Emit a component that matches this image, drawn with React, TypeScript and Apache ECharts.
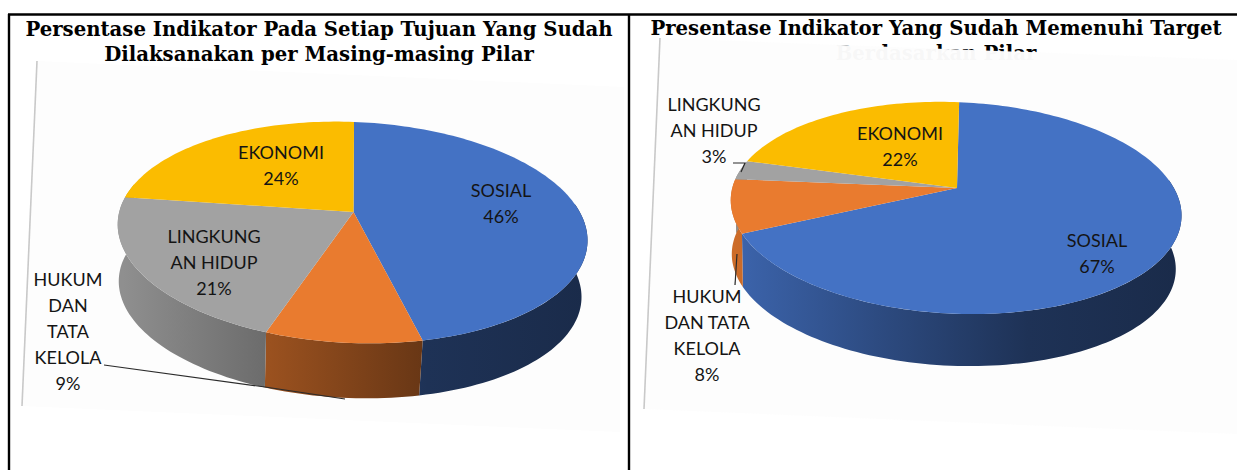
import React, { useEffect, useRef } from "react";
import * as echarts from "echarts";

// ---- data ----
const leftTitle = ["Persentase Indikator Pada Setiap Tujuan Yang Sudah", "Dilaksanakan per Masing-masing Pilar"];
const rightTitle = ["Presentase Indikator Yang Sudah Memenuhi Target", "Berdasarkan Pilar"];
const leftCategories = ["SOSIAL", "HUKUM\nDAN\nTATA\nKELOLA", "LINGKUNG\nAN HIDUP", "EKONOMI"];
const rightCategories = ["SOSIAL", "HUKUM\nDAN TATA\nKELOLA", "LINGKUNG\nAN HIDUP", "EKONOMI"];
const leftValues = [46, 9, 21, 24];
const rightValues = [67, 8, 3, 22];
const baseColors = ["#4472C4", "#E97B2F", "#A2A2A2", "#FBBC00"];

// ---- layout ----
const shadeStops: [number, number][] = [[0, 0.88], [0.32, 0.66], [0.66, 0.44], [1, 0.38]];
const tilt = (2.5 * Math.PI) / 180; // the whole picture sits slightly rotated
const leftLayout = {
  ax: 353.5, ay: 212, rx: 231, ry: 106.7, k: 0.1856, depth: 57, shrink: 0.985, start: -91,
  labels: [[501, 203], [68, 331], [214, 262], [281, 165]],
  leaders: [null, [[104, 365], [265, 387], [345, 399]], null, null],
};
const rightLayout = {
  ax: 957, ay: 188, rx: 221.5, ry: 102, k: 0.1887, depth: 54, shrink: 0.985, start: -90.5,
  labels: [[1097, 253], [707, 335], [714, 130], [900, 146]],
  leaders: [null, [[737, 254], [735, 285]], [[733, 163], [745, 163], [741, 172]], null],
};

const scale = (hex: string, f: number) => {
  const n = parseInt(hex.slice(1), 16);
  const c = [(n >> 16) & 255, (n >> 8) & 255, n & 255].map((v) => Math.round(v * f));
  return `rgb(${c.join(",")})`;
};

const pieSeries = (values: number[], names: string[], L: any) => {
  const total = values.reduce((a, b) => a + b, 0);
  const project = (deg: number, dropped: boolean) => {
    const t = (deg * Math.PI) / 180;
    const w = 1 - L.k * Math.sin(t);
    const s = dropped ? L.shrink : 1;
    const x = (s * L.rx * Math.cos(t)) / w;
    const y = (dropped ? L.depth : 0) + (s * L.ry * Math.sin(t)) / w;
    return [
      L.ax + x * Math.cos(tilt) - y * Math.sin(tilt),
      L.ay + y * Math.cos(tilt) + x * Math.sin(tilt),
    ];
  };
  const arc = (a: number, b: number, dropped: boolean) => {
    const pts: number[][] = [];
    const n = Math.max(2, Math.ceil(Math.abs(b - a) / 1.5));
    for (let i = 0; i <= n; i++) pts.push(project(a + ((b - a) * i) / n, dropped));
    return pts;
  };
  const fullW = 2 * L.rx;
  return {
    type: "custom",
    coordinateSystem: "none",
    silent: true,
    z: 3,
    data: values.map((v, i) => ({ value: v, name: names[i] })),
    renderItem: (params: any) => {
      const i = params.dataIndex;
      const before = values.slice(0, i).reduce((a, b) => a + b, 0);
      const a0 = L.start + (before / total) * 360;
      const a1 = a0 + (values[i] / total) * 360;
      const base = baseColors[i];
      const children: any[] = [];
      // outer wall: visible only on the near half of the disc
      const sa = Math.max(a0, -10);
      const sb = Math.min(a1, 190);
      if (sb > sa) {
        const top = arc(sa, sb, false);
        const bot = arc(sb, sa, true);
        children.push({
          type: "polygon",
          z2: 1,
          shape: { points: top.concat(bot) },
          style: {
            fill: {
              type: "linear",
              global: true,
              x: L.ax - L.rx,
              y: 0,
              x2: L.ax - L.rx + fullW,
              y2: 0,
              colorStops: shadeStops.map(([offset, f]) => ({ offset, color: scale(base, f) })),
            },
          },
        });
      }
      children.push({
        type: "polygon",
        z2: 2,
        shape: { points: [[L.ax, L.ay], ...arc(a0, a1, false)] },
        style: { fill: base },
      });
      const leader = L.leaders[i];
      if (leader) {
        children.push({
          type: "polyline",
          z2: 3,
          shape: { points: leader },
          style: { stroke: "#2b2b2b", lineWidth: 1.2, fill: "none" },
        });
      }
      children.push({
        type: "text",
        z2: 4,
        x: L.labels[i][0],
        y: L.labels[i][1],
        style: {
          text: `${names[i]}\n${values[i]}%`,
          fill: "#141414",
          font: "400 18px Lato",
          lineHeight: 26,
          align: "center",
          verticalAlign: "middle",
        },
      });
      return { type: "group", children };
    },
  };
};

const titleStyle = {
  fontFamily: "DejaVu Serif",
  fontWeight: "bold" as const,
  fontSize: 19.7,
  color: "#000",
};

export default function App() {
  const ref = useRef<HTMLDivElement>(null);
  useEffect(() => {
    document.body.style.margin = "0";
    const chart = echarts.init(ref.current!, undefined, { renderer: "svg" });
    const frame = { stroke: "#000", lineWidth: 2.4 };
    chart.setOption({
      animation: false,
      backgroundColor: "#ffffff",
      title: [
        { text: leftTitle[0], left: 319, top: 19, padding: 0, textAlign: "center", z: 6, textStyle: titleStyle },
        { text: leftTitle[1], left: 319, top: 44, padding: 0, textAlign: "center", z: 6, textStyle: titleStyle },
        { text: rightTitle[0], left: 936, top: 18, padding: 0, textAlign: "center", z: 6, textStyle: titleStyle },
        { text: rightTitle[1], left: 936, top: 43, padding: 0, textAlign: "center", z: 0, textStyle: titleStyle },
      ],
      graphic: [
        { type: "polygon", z: 1, silent: true, shape: { points: [[37, 61], [624, 87], [620, 432], [21, 406]] }, style: { fill: "#fdfdfd" } },
        { type: "polygon", z: 1, silent: true, shape: { points: [[659, 38], [1237, 60], [1237, 434], [644, 409]] }, style: { fill: "#fdfdfd", opacity: 0.975 } },
        { type: "line", z: 2, silent: true, shape: { x1: 37, y1: 61, x2: 22, y2: 406 }, style: { stroke: "#c9c9c9", lineWidth: 1.6 } },
        { type: "line", z: 2, silent: true, shape: { x1: 660, y1: 38, x2: 644, y2: 409 }, style: { stroke: "#c9c9c9", lineWidth: 1.6 } },
        { type: "line", z: 7, silent: true, shape: { x1: 8, y1: 14.5, x2: 1237, y2: 14.5 }, style: frame },
        { type: "line", z: 7, silent: true, shape: { x1: 9, y1: 14, x2: 9, y2: 470 }, style: frame },
        { type: "line", z: 7, silent: true, shape: { x1: 629, y1: 14, x2: 629, y2: 470 }, style: frame },
      ],
      series: [
        pieSeries(leftValues, leftCategories, leftLayout),
        pieSeries(rightValues, rightCategories, rightLayout),
      ],
    });
    return () => chart.dispose();
  }, []);
  return <div ref={ref} style={{ width: 1237, height: 470 }} />;
}
